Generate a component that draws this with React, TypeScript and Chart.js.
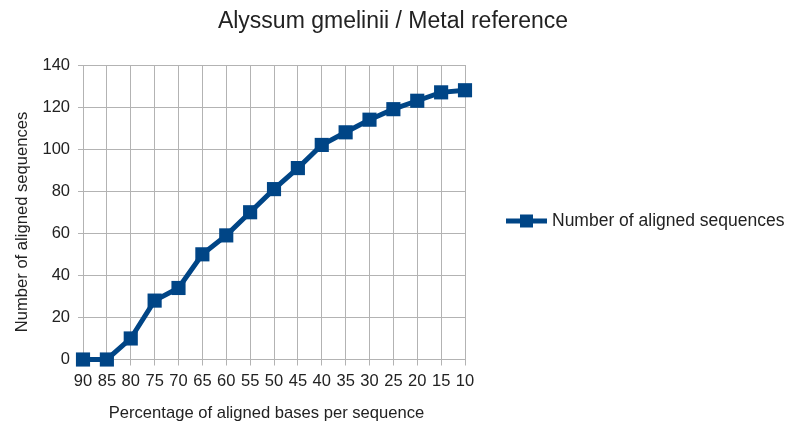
import React, { useEffect, useRef } from "react";
import { Chart, registerables } from "chart.js";

Chart.register(...registerables);

const categories = ["90", "85", "80", "75", "70", "65", "60", "55", "50", "45", "40", "35", "30", "25", "20", "15", "10"];
const alignedSequences = [0, 0, 10, 28, 34, 50, 59, 70, 81, 91, 102, 108, 114, 119, 123, 127, 128];
const seriesLabel = "Number of aligned sequences";
const chartTitle = "Alyssum gmelinii / Metal reference";
const xTitle = "Percentage of aligned bases per sequence";
const yTitle = "Number of aligned sequences";

const BLUE = "#004586";
const GRID = "#b3b3b3";
const TEXT = "#222222";
const FONT = "'Liberation Sans', Arial, sans-serif";

const textPlugin = {
  id: "customText",
  afterDraw(chart: any) {
    const ctx = chart.ctx;
    ctx.save();
    ctx.fillStyle = TEXT;
    ctx.textBaseline = "middle";
    ctx.textAlign = "center";
    // chart title
    ctx.font = `23px ${FONT}`;
    ctx.fillText(chartTitle, 393, 22);
    // x axis title
    ctx.font = `16.6px ${FONT}`;
    ctx.fillText(xTitle, 266.5, 413);
    // y axis title
    ctx.save();
    ctx.translate(22, 222);
    ctx.rotate(-Math.PI / 2);
    ctx.font = `16.6px ${FONT}`;
    ctx.fillText(yTitle, 0, 0);
    ctx.restore();
    // legend
    const y = 221;
    ctx.strokeStyle = BLUE;
    ctx.lineWidth = 5;
    ctx.beginPath();
    ctx.moveTo(506, y);
    ctx.lineTo(547, y);
    ctx.stroke();
    ctx.fillStyle = BLUE;
    ctx.fillRect(520, y - 6.5, 13, 13);
    ctx.fillStyle = TEXT;
    ctx.font = `17.5px ${FONT}`;
    ctx.textAlign = "left";
    ctx.fillText(seriesLabel, 552, y);
    ctx.restore();
  },
};

export default function App() {
  const ref = useRef<HTMLCanvasElement>(null);
  useEffect(() => {
    if (!ref.current) return;
    const chart = new Chart(ref.current, {
      type: "line",
      data: {
        labels: categories,
        datasets: [
          {
            label: seriesLabel,
            data: alignedSequences,
            borderColor: BLUE,
            backgroundColor: BLUE,
            borderWidth: 5,
            pointStyle: "rect",
            pointRadius: 10,
            pointHoverRadius: 10,
            pointBorderWidth: 0,
            tension: 0,
            clip: false as any,
          },
        ],
      },
      options: {
        animation: false,
        responsive: false,
        maintainAspectRatio: false,
        layout: { padding: { left: 0, right: 322, top: 65, bottom: 0 } },
        plugins: {
          legend: { display: false },
          tooltip: { enabled: false },
          title: { display: false },
        },
        scales: {
          x: {
            type: "category",
            offset: false,
            grid: { color: GRID, lineWidth: 1, drawTicks: true, tickLength: 6 },
            border: { color: GRID },
            ticks: {
              color: TEXT,
              font: { family: FONT, size: 16.5 },
              padding: 6,
              maxRotation: 0,
              minRotation: 0,
              autoSkip: false,
            },
            afterFit(scale: any) {
              scale.height = 63.5;
            },
          },
          y: {
            min: 0,
            max: 140,
            grid: { color: GRID, lineWidth: 1, drawTicks: true, tickLength: 5 },
            border: { color: GRID },
            ticks: {
              stepSize: 20,
              color: TEXT,
              font: { family: FONT, size: 16.5 },
              padding: 8,
            },
            afterFit(scale: any) {
              scale.width = 83;
            },
          },
        },
      },
      plugins: [textPlugin],
    });
    return () => chart.destroy();
  }, []);
  return (
    <div style={{ position: "fixed", left: 0, top: 0, width: 787, height: 423, background: "#fff" }}>
      <canvas ref={ref} width={787} height={423} style={{ display: "block" }} />
    </div>
  );
}
